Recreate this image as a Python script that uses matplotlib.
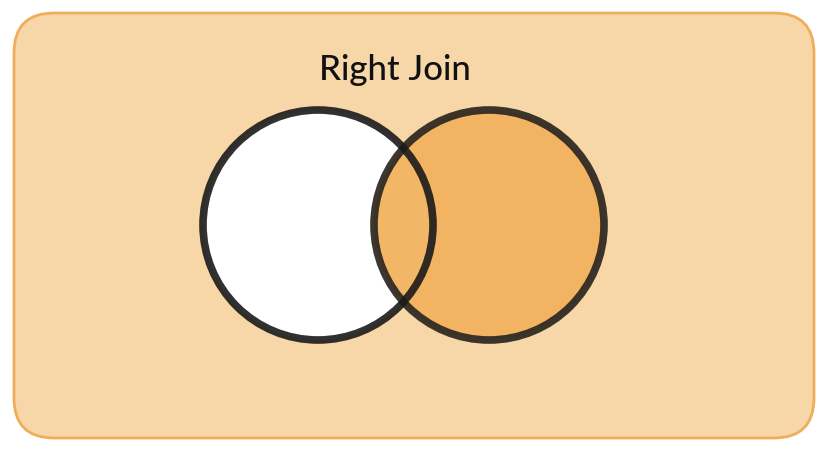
import matplotlib.pyplot as plt
from matplotlib.patches import Circle, FancyBboxPatch

# diagram content
title = "Right Join"
sets = ["left", "right"]
centers_x = [318, 489]
center_y = 225
radius = 115
fills = ["#ffffff", "#f2b35e"]
edges = ["#1a1a1a", "#2b2620"]

fig = plt.figure(figsize=(8.28, 4.5), dpi=100)
ax = fig.add_axes([0, 0, 1, 1])
ax.set_xlim(0, 828)
ax.set_ylim(450, 0)
ax.axis("off")

bg = FancyBboxPatch((14, 13), 800, 425, boxstyle="round,pad=0,rounding_size=40",
                    facecolor="#f7d6a8", edgecolor="#efae5a", linewidth=2)
ax.add_patch(bg)

# fills
ax.add_patch(Circle((centers_x[0], center_y), radius, facecolor=fills[0],
                    edgecolor="none", zorder=2))
ax.add_patch(Circle((centers_x[1], center_y), radius, facecolor=fills[1],
                    edgecolor="none", alpha=0.95, zorder=3))
# outlines: right first, left on top so its arc shows through the overlap
ax.add_patch(Circle((centers_x[1], center_y), radius, facecolor="none",
                    edgecolor=edges[1], linewidth=5.5, alpha=0.92, zorder=4))
ax.add_patch(Circle((centers_x[0], center_y), radius, facecolor="none",
                    edgecolor=edges[0], linewidth=5.5, alpha=0.9, zorder=5))

ax.text(395, 70, title, ha="center", va="center", fontsize=25,
        family=["Lato", "DejaVu Sans"], weight="medium", color="#111111")

fig.savefig("out.png", dpi=100)
